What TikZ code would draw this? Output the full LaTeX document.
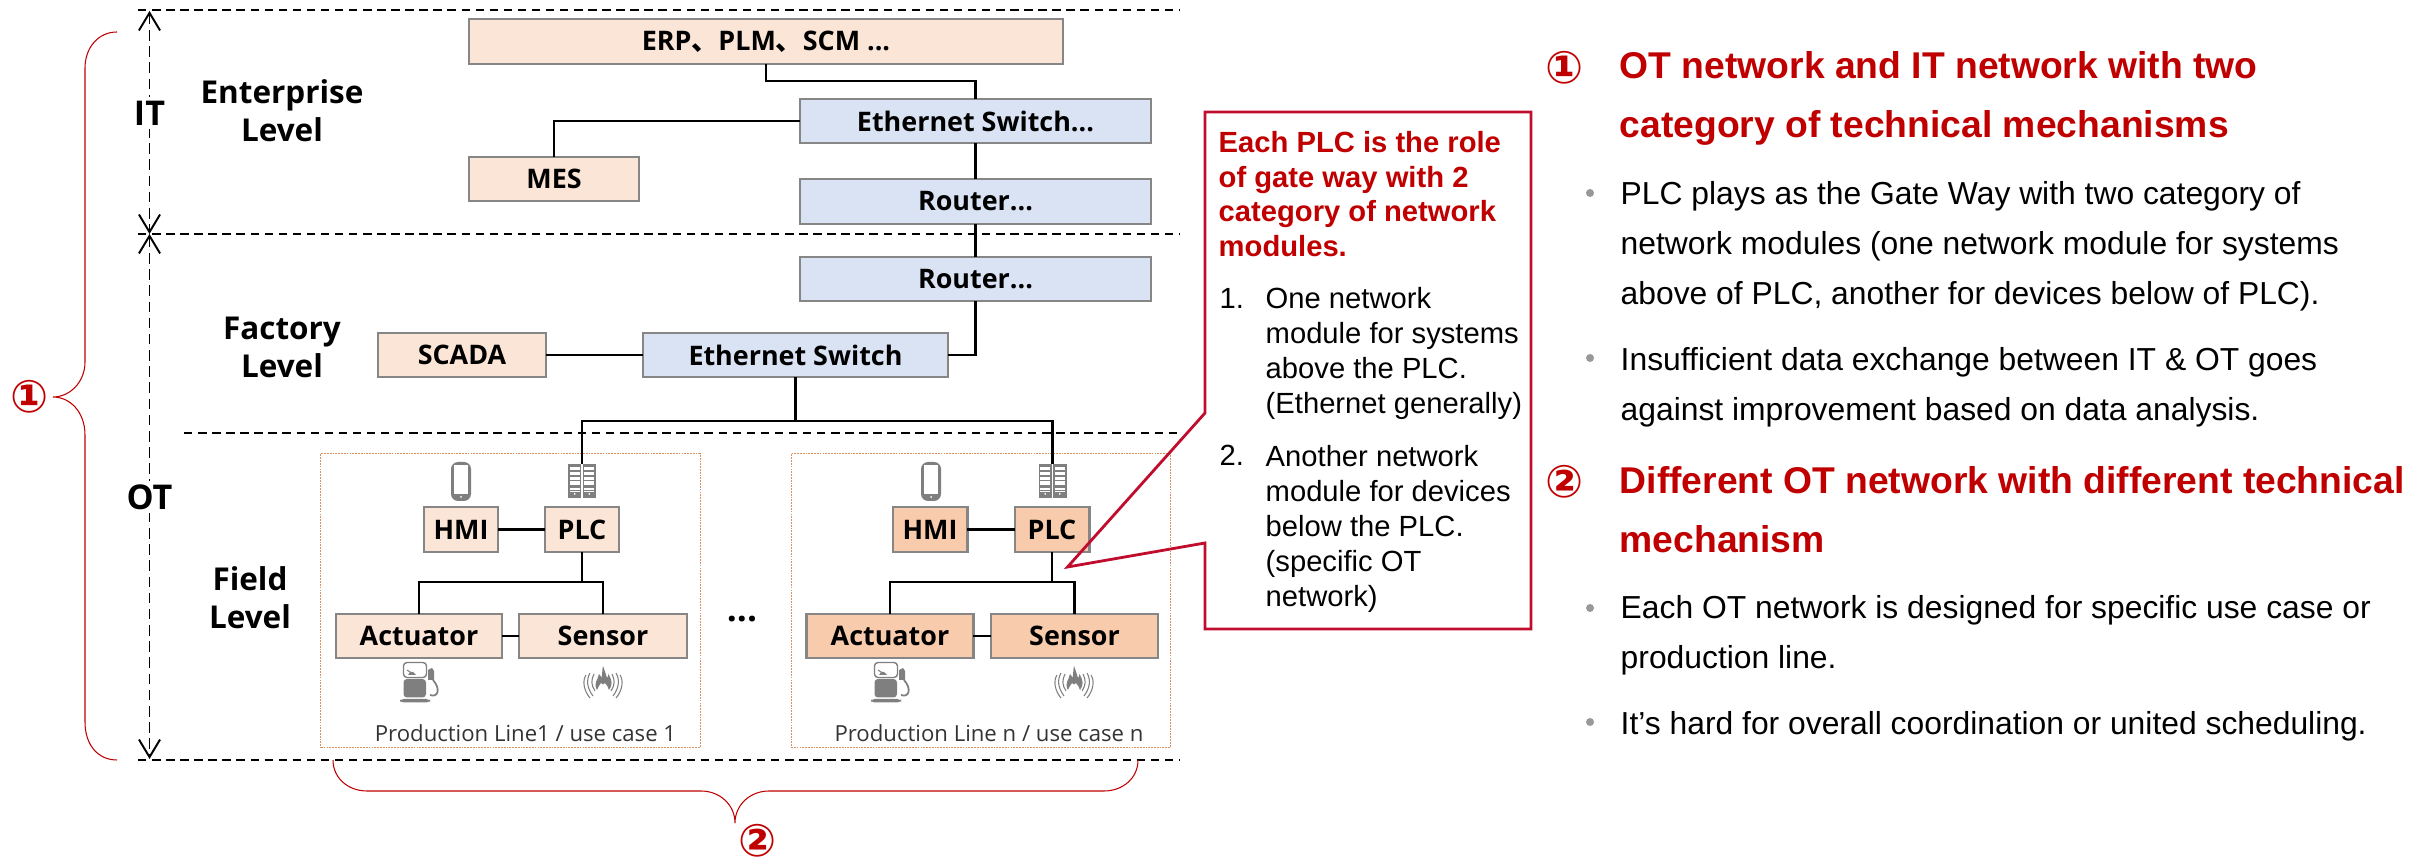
\documentclass[tikz,border=0pt]{standalone}
\usepackage{fontspec}
\setmainfont{Liberation Sans}
\newfontfamily\boxfont{Open Sans}
\newfontfamily\cjk{Noto Sans CJK SC}
\newfontfamily\circfont{DejaVu Sans}
\usetikzlibrary{arrows.meta}

\definecolor{peach}{HTML}{FBE5D6}
\definecolor{peachdark}{HTML}{F8CBAD}
\definecolor{netblue}{HTML}{DAE3F3}
\definecolor{edgegray}{HTML}{868686}
\definecolor{icongray}{HTML}{7F7F7F}
\definecolor{linered}{HTML}{C00D2E}
\definecolor{headred}{HTML}{C00000}
\definecolor{lineorange}{HTML}{D9925F}

\tikzset{
  basebox/.style={draw=edgegray,line width=0.7pt,inner sep=0pt,outer sep=0pt,font=\boxfont\fontsize{7.65}{9}\selectfont\bfseries},
  peachbox/.style={basebox,fill=peach},
  darkbox/.style={basebox,fill=peachdark},
  bluebox/.style={basebox,fill=netblue},
  linebox/.style={draw=lineorange,dash pattern=on 0.5pt off 0.3pt,line width=0.3pt,minimum width=3.79cm,minimum height=2.93cm,inner sep=0pt},
  conn/.style={black,line width=0.6pt},
  levellbl/.style={align=center,font=\boxfont\fontsize{8.95}{10.8}\selectfont\bfseries},
  netlbl/.style={fill=white,inner sep=1pt,font=\boxfont\fontsize{9.7}{10}\selectfont\bfseries},
  linelbl/.style={font=\boxfont\fontsize{6.3}{8}\selectfont,text=black!80},
  sepline/.style={black,line width=0.55pt,dash pattern=on 2.4pt off 1.6pt},
  span/.style={black,line width=0.55pt,dash pattern=on 3pt off 1.6pt,{Straight Barb[length=5pt,width=6pt]}-{Straight Barb[length=5pt,width=6pt]}},
  bracered/.style={headred,line width=0.3pt},
  circnum/.style={text=headred,inner sep=0pt,font=\circfont\fontsize{12.8}{13}\selectfont\bfseries},
  headtxt/.style={anchor=base west,align=left,inner sep=0pt,text=headred,font=\fontsize{10.6}{16.8}\selectfont\bfseries},
  bodytxt/.style={anchor=base west,align=left,inner sep=0pt,font=\fontsize{9.05}{14.2}\selectfont},
  notehead/.style={anchor=base west,align=left,inner sep=0pt,text=headred,font=\fontsize{8.3}{9.95}\selectfont\bfseries},
  notetxt/.style={anchor=base west,align=left,inner sep=0pt,font=\fontsize{8.3}{10}\selectfont},
  phoneicon/.pic={
    \fill[icongray,rounded corners=2] (0,0) rectangle (20,39);
    \fill[white] (3.4,3.4) rectangle (16.8,32);
    \fill[white] (10,35) circle (1);
  },
  srvcol/.pic={
    \fill[icongray] (0,0) rectangle (13.4,34);
    \fill[white] (1.7,2.7) rectangle (11.7,6.5);
    \fill[white] (1.7,7.8) rectangle (11.7,11.2);
    \fill[white] (1.7,12.7) rectangle (11.7,16);
    \fill[white] (1.7,17.3) rectangle (11.7,20.7);
    \fill[white] (1.7,24.3) rectangle (11.7,25.7);
    \fill[white] (1.7,26.8) rectangle (11.7,27.9);
    \fill[white] (6.7,29.9) circle (1);
  },
  servericon/.pic={
    \pic at (0,0) {srvcol};
    \pic at (14.6,0) {srvcol};
  },
  pumpicon/.pic={
    \draw[icongray,line width=0.4pt,rounded corners=1] (3.5,0.5) rectangle (26.5,15.5);
    \fill[icongray] (8,13) -- (10,10) -- (13,10) -- (16,13) -- cycle;
    \draw[icongray,line width=0.3pt] (7,8) -- (13,12);
    \fill[icongray,rounded corners=1] (3.5,17) rectangle (26,35.5);
    \fill[icongray,rounded corners=1] (0,37) rectangle (30,40.5);
    \fill[icongray] (28,8) -- (32,6) -- (34,9) -- (34,18) -- (28,18) -- cycle;
    \draw[icongray,line width=0.5pt] (33,18) .. controls (41,27) and (38,36) .. (30,33);
  },
  flameicon/.pic={
    \fill[icongray] (14,24) .. controls (10,17) and (15,14) .. (16,8)
      .. controls (18,10) and (18,11) .. (18.5,12) .. controls (19.5,8) and (19,4) .. (20,0)
      .. controls (22,5) and (23,9) .. (24,12) .. controls (25,11) and (25,10) .. (25.5,8)
      .. controls (29,14) and (30,19) .. (26,24) .. controls (25,21) and (24,19) .. (22,17)
      .. controls (21,19) and (19,19) .. (18,17) .. controls (16,20) and (15,21) .. (14,24) -- cycle;
    \draw[icongray,line width=0.3pt] (11,8) .. controls (8,14) and (8,19) .. (12,25);
    \draw[icongray,line width=0.3pt] (7,7) .. controls (3,14) and (4,22) .. (10,30);
    \draw[icongray,line width=0.3pt] (3,9) .. controls (-1,15) and (1,25) .. (7,32);
    \draw[icongray,line width=0.3pt] (29,8) .. controls (32,14) and (32,19) .. (28,25);
    \draw[icongray,line width=0.3pt] (33,7) .. controls (37,14) and (36,22) .. (30,30);
    \draw[icongray,line width=0.3pt] (37,9) .. controls (41,15) and (39,25) .. (33,32);
  }
}

\begin{document}
\begin{tikzpicture}[x=0.01cm,y=-0.01cm]
\useasboundingbox (0,0) rectangle (2431,862);

% Level separators
\draw[sepline] (138,10) -- (1180,10);
\draw[sepline] (138,234) -- (1180,234);
\draw[sepline] (184,433) -- (1180,433);
\draw[sepline] (138,760) -- (1180,760);

\coordinate (topend) at (149.5,11);
\coordinate (midend) at (149.5,234);
\coordinate (botend) at (149.5,759);
\draw[span] (topend) -- (midend);
\draw[span] (midend) -- (botend);
\node[netlbl] (itlbl) at (149.5,113) {IT};
\node[netlbl] (otlbl) at (149.5,497) {OT};

\node[levellbl] (entlbl) at (282,111) {Enterprise\\Level};
\node[levellbl] (faclbl) at (282,347) {Factory\\Level};
\node[levellbl] (fldlbl) at (250,598) {Field\\Level};

% Upper systems
\node[peachbox,minimum width=5.94cm,minimum height=0.45cm] (erp) at (766,41.5) {ERP{\cjk 、}PLM{\cjk 、}SCM ...};
\node[peachbox,minimum width=1.7cm,minimum height=0.44cm] (mes) at (554,179) {MES};
\node[bluebox,minimum width=3.51cm,minimum height=0.44cm] (swtop) at (975.5,121) {Ethernet Switch...};
\node[bluebox,minimum width=3.51cm,minimum height=0.45cm] (rttop) at (975.5,201.5) {Router...};
\node[bluebox,minimum width=3.51cm,minimum height=0.44cm] (rtlow) at (975.5,279) {Router...};
\node[peachbox,minimum width=1.68cm,minimum height=0.44cm] (scada) at (462,355) {SCADA};
\node[bluebox,minimum width=3.05cm,minimum height=0.44cm] (swlow) at (795.5,355) {Ethernet Switch};

\draw[conn] (erp.south) -- (erp.south |- 0,81) -| (swtop.north);
\draw[conn] (mes.north) |- (swtop.west);
\draw[conn] (swtop.south) -- (rttop.north);
\draw[conn] (rttop.south) -- (rtlow.north);
\draw[conn] (rtlow.south) |- (swlow.east);
\draw[conn] (scada.east) -- (swlow.west);

% Production lines
\node[linebox] (lineA) at (510.5,600.5) {};
\node[linebox] (lineB) at (980.7,600.5) {};

\coordinate (srvA) at (582,464);
\coordinate (srvB) at (1052.5,464);
\draw[conn] (swlow.south) -- (swlow.south |- 0,421);
\draw[conn] (srvA) -- (srvA |- 0,421) -- (srvB |- 0,421) -- (srvB);

\pic at (451,462) {phoneicon};
\pic at (568,464) {servericon};
\pic at (400,662) {pumpicon};
\pic at (583,666) {flameicon};
\pic at (921,462) {phoneicon};
\pic at (1038.5,464) {servericon};
\pic at (871,662) {pumpicon};
\pic at (1054,666) {flameicon};

\node[peachbox,minimum width=0.74cm,minimum height=0.45cm] (hmiA) at (461,529.5) {HMI};
\node[peachbox,minimum width=0.74cm,minimum height=0.45cm] (plcA) at (582,529.5) {PLC};
\node[peachbox,minimum width=1.66cm,minimum height=0.44cm] (actA) at (419,636) {Actuator};
\node[peachbox,minimum width=1.68cm,minimum height=0.44cm] (senA) at (603,636) {Sensor};
\draw[conn] (hmiA.east) -- (plcA.west);
\draw[conn] (plcA.south) -- (plcA.south |- 0,582);
\draw[conn] (actA.north) -- (actA.north |- 0,582) -- (senA.north |- 0,582) -- (senA.north);
\draw[conn] (actA.east) -- (senA.west);

\node[darkbox,minimum width=0.745cm,minimum height=0.45cm] (hmiB) at (930,529.5) {HMI};
\node[darkbox,minimum width=0.745cm,minimum height=0.45cm] (plcB) at (1052,529.5) {PLC};
\node[darkbox,minimum width=1.665cm,minimum height=0.44cm] (actB) at (890,636) {Actuator};
\node[darkbox,minimum width=1.67cm,minimum height=0.44cm] (senB) at (1074.5,636) {Sensor};
\draw[conn] (hmiB.east) -- (plcB.west);
\draw[conn] (plcB.south) -- (plcB.south |- 0,582);
\draw[conn] (actB.north) -- (actB.north |- 0,582) -- (senB.north |- 0,582) -- (senB.north);
\draw[conn] (actB.east) -- (senB.west);

\node[linelbl] (nameA) at (525.5,733) {Production Line1 / use case 1};
\node[linelbl] (nameB) at (989,733) {Production Line n / use case n};
\node[font=\boxfont\fontsize{10}{12}\selectfont\bfseries] (moredots) at (742,619) {...};

% Red braces
\draw[bracered] (117,32) .. controls (98,32) and (85,48) .. (85,68) -- (85,362)
  .. controls (85,382) and (70,397) .. (53,397) .. controls (70,397) and (85,412) .. (85,435)
  -- (85,722) .. controls (85,745) and (98,760) .. (117,760);
\draw[bracered] (333,760) .. controls (333,778) and (348,791) .. (367,791) -- (701,791)
  .. controls (720,791) and (735,805) .. (735,823) .. controls (735,805) and (750,791) .. (769,791)
  -- (1104,791) .. controls (1123,791) and (1138,778) .. (1138,760);
\node[circnum] (numA) at (30,397) {①};
\node[circnum] (numB) at (758,841) {②};

% Callout
\draw[linered,line width=0.8pt] (1205,112) -- (1531,112) -- (1531,629) -- (1205,629)
  -- (1205,543) -- (1067.5,567) -- (1205,413) -- cycle;
\node[notehead] (notetop) at (1218,257) {Each PLC is the role\\of gate way with 2\\category of network\\modules.};
\node[notetxt] (noteno1) at (1219,309) {1.};
\node[notetxt] (notefst) at (1265,414) {One network\\module for systems\\above the PLC.\\(Ethernet generally)};
\node[notetxt] (noteno2) at (1219,466) {2.};
\node[notetxt] (notesnd) at (1265,607) {Another network\\module for devices\\below the PLC.\\(specific OT\\network)};

% Right text
\node[circnum] (numC) at (1565,68) {①};
\node[headtxt] (headA) at (1619,137.5) {OT network and IT network with two\\category of technical mechanisms};
\fill[icongray!80] (1590,193) circle (4);
\node[bodytxt] (bodyA) at (1620,304.5) {PLC plays as the Gate Way with two category of\\network modules (one network module for systems\\above of PLC, another for devices below of PLC).};
\fill[icongray!80] (1590,358) circle (4);
\node[bodytxt] (bodyB) at (1620,420.5) {Insufficient data exchange between IT \& OT goes\\against improvement based on data analysis.};
\node[circnum] (numD) at (1565,482) {②};
\node[headtxt] (headB) at (1619,552.5) {Different OT network with different technical\\mechanism};
\fill[icongray!80] (1590,608) circle (4);
\node[bodytxt] (bodyC) at (1620,668.5) {Each OT network is designed for specific use case or\\production line.};
\fill[icongray!80] (1590,722) circle (4);
\node[bodytxt] (bodyD) at (1620,734.5) {It’s hard for overall coordination or united scheduling.};
\end{tikzpicture}
\end{document}
